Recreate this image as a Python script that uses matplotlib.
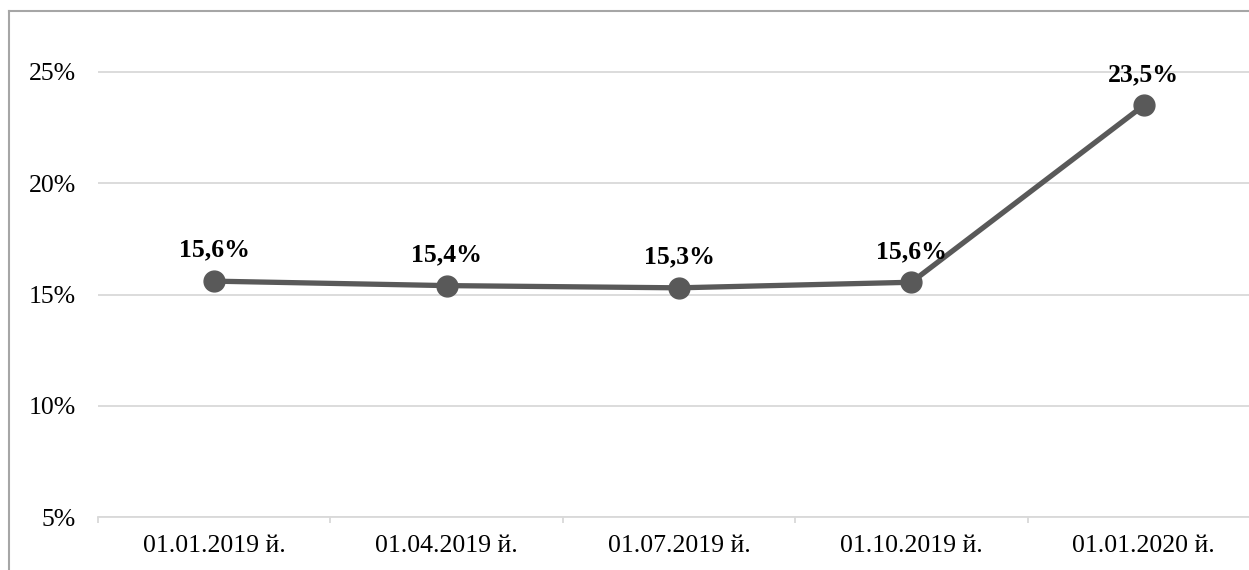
import matplotlib.pyplot as plt
import numpy as np
from matplotlib.lines import Line2D
from matplotlib.ticker import FuncFormatter, FixedLocator

# data
dates = ['01.01.2019 й.', '01.04.2019 й.', '01.07.2019 й.', '01.10.2019 й.', '01.01.2020 й.']
share = [15.6, 15.4, 15.3, 15.55, 23.5]
share_labels = ['15,6%', '15,4%', '15,3%', '15,6%', '23,5%']
yticks = [5, 10, 15, 20, 25]

plt.rcParams['font.family'] = ['Liberation Serif', 'DejaVu Serif']

W, H = 1249, 570
fig = plt.figure(figsize=(W / 100, H / 100), dpi=100)

# the chart is cropped on the right, so the axes run past the figure edge
left, right, bottom, top = 98, 1260, 517, 27.5
ax = fig.add_axes([left / W, (H - bottom) / H, (right - left) / W, (bottom - top) / H])

x = np.arange(len(dates))
ax.plot(x, share, color='#595959', lw=3.8, marker='o', ms=15, zorder=3)

for xi, yi, lab in zip(x, share, share_labels):
    ax.annotate(lab, (xi, yi), xytext=(0, 14), textcoords='offset points',
                ha='center', va='bottom', fontsize=18.5, fontweight='bold', color='black')

ax.set_xlim(-0.5, len(dates) - 0.5)
ax.set_ylim(5, 27)
ax.set_yticks(yticks)
ax.yaxis.set_major_formatter(FuncFormatter(lambda v, p: f'{v:.0f}%'))
ax.grid(axis='y', color='#d9d9d9', lw=1.3)
ax.set_axisbelow(True)

ax.set_xticks(x)
ax.set_xticklabels(dates)
ax.xaxis.set_minor_locator(FixedLocator(np.arange(-0.5, len(dates), 1.0)))
ax.tick_params(axis='x', which='major', length=0, pad=13, labelsize=18.5)
ax.tick_params(axis='x', which='minor', length=4, width=1.3, color='#d9d9d9')
ax.tick_params(axis='y', length=0, pad=16, labelsize=18.5)

for s in ['top', 'right', 'left']:
    ax.spines[s].set_visible(False)
ax.spines['bottom'].set_color('#d9d9d9')
ax.spines['bottom'].set_linewidth(1.3)

# outer chart border (only left and top are inside the crop)
bx, by = 8.5 / W, 1 - 11 / H
fig.add_artist(Line2D([bx, bx], [0, by], transform=fig.transFigure, color='#a6a6a6', lw=1.5))
fig.add_artist(Line2D([bx, 1], [by, by], transform=fig.transFigure, color='#a6a6a6', lw=1.5))

fig.savefig('out.png', dpi=100)
